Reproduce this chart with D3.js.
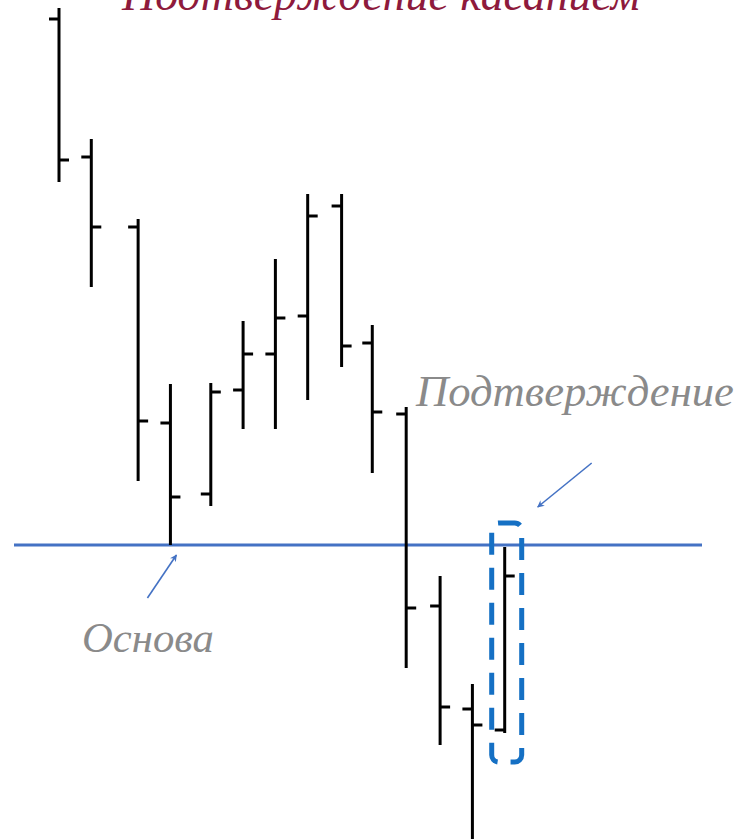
<!DOCTYPE html>
<html>
<head>
<meta charset="utf-8">
<script src="https://cdn.jsdelivr.net/npm/d3@7"></script>
<style>
  html, body { margin: 0; padding: 0; background: #fff; }
  svg { display: block; }
</style>
</head>
<body>
<div id="chart"></div>
<script>
// ---- data ----
const slots  = [0, 1, 2.45, 3.45, 4.7, 5.7, 6.7, 7.7, 8.75, 9.7, 10.75, 11.8, 12.8, 13.8];
const opens  = [82.0, 68.2, 61.2, 41.6, 34.5, 44.9, 48.5, 52.3, 63.3, 49.6, 42.5, 23.3, 13.0, 10.9];
const highs  = [83.1, 70.0, 62.0, 45.5, 45.6, 51.8, 58.0, 64.5, 64.5, 51.4, 43.2, 26.3, 15.5, 29.2];
const lows   = [65.7, 55.2, 35.8, 29.4, 33.3, 41.0, 41.0, 43.9, 47.2, 36.6, 17.1, 9.4, -1.0, 10.6];
const closes = [67.9, 61.2, 41.8, 34.2, 44.7, 48.5, 52.1, 62.3, 49.3, 42.7, 23.1, 13.2, 11.4, 26.3];
const supportLevel = 29.4;
const baseBar = 3;      // "Основа" bar index
const confirmBar = 13;  // "Подтверждение" bar index
const titleText = "Подтверждение касанием";
const labelConfirm = "Подтверждение";
const labelBase = "Основа";

const W = 751, H = 839;
const bars = slots.map((t, i) => ({ t, o: opens[i], h: highs[i], l: lows[i], c: closes[i] }));

const x = d3.scaleLinear().domain([0, 13.8]).range([59, 504.7]);
const y = d3.scaleLinear().domain([0, 83.9]).range([839, 0]);

const svg = d3.select("#chart").append("svg")
  .attr("width", W).attr("height", H);

const defs = svg.append("defs");
defs.append("marker")
  .attr("id", "arrow")
  .attr("viewBox", "0 0 10 10")
  .attr("refX", 9).attr("refY", 5)
  .attr("markerWidth", 7).attr("markerHeight", 7)
  .attr("markerUnits", "userSpaceOnUse")
  .attr("orient", "auto")
  .append("path").attr("d", "M0,0 L10,5 L0,10 L3,5 Z").attr("fill", "#4472c4");

const FONT = "'Liberation Serif', 'DejaVu Serif', serif";
// add text whose natural width fits a target width
function fitText(str, tx, ty, width, color) {
  const t = svg.append("text")
    .attr("x", tx).attr("y", ty)
    .attr("font-family", FONT)
    .attr("font-style", "italic")
    .attr("font-size", 50)
    .attr("fill", color)
    .text(str);
  const w = t.node().getComputedTextLength();
  t.attr("font-size", (50 * width / w).toFixed(2));
  return t;
}

// title (cut off at the top, as in the reference)
fitText(titleText, 122, 10, 518, "#8e1a3c");

// support line
svg.append("line")
  .attr("x1", 14).attr("x2", 702)
  .attr("y1", y(supportLevel)).attr("y2", y(supportLevel))
  .attr("stroke", "#4472c4").attr("stroke-width", 3);

// OHLC bars
const g = svg.append("g").attr("stroke", "#000").attr("stroke-width", 3).attr("stroke-linecap", "butt");
const tick = 10;
g.selectAll("line.hl").data(bars).join("line")
  .attr("class", "hl")
  .attr("x1", d => x(d.t)).attr("x2", d => x(d.t))
  .attr("y1", d => y(d.h)).attr("y2", d => y(d.l));
g.selectAll("line.op").data(bars).join("line")
  .attr("class", "op")
  .attr("x1", d => x(d.t) - tick).attr("x2", d => x(d.t))
  .attr("y1", d => y(d.o)).attr("y2", d => y(d.o));
g.selectAll("line.cl").data(bars).join("line")
  .attr("class", "cl")
  .attr("x1", d => x(d.t)).attr("x2", d => x(d.t) + tick)
  .attr("y1", d => y(d.c)).attr("y2", d => y(d.c));

// dashed highlight box around the confirmation bar
const cb = bars[confirmBar];
const bx0 = x(cb.t) - 13, bx1 = x(cb.t) + 17;
const by0 = y(cb.h) - 24, by1 = y(cb.l) + 29;
svg.append("rect")
  .attr("x", bx0).attr("y", by0)
  .attr("width", bx1 - bx0).attr("height", by1 - by0)
  .attr("rx", 7).attr("ry", 7)
  .attr("fill", "none")
  .attr("stroke", "#1570c4").attr("stroke-width", 5)
  .attr("stroke-dasharray", "22 13");

// labels
fitText(labelConfirm, 416, 406, 318, "#8a8a8a");
fitText(labelBase, 82, 652, 132, "#8a8a8a");

// arrows
const bb = bars[baseBar];
svg.append("line")
  .attr("x1", x(bb.t) - 23).attr("y1", y(bb.l) + 53)
  .attr("x2", x(bb.t) + 6).attr("y2", y(bb.l) + 10)
  .attr("stroke", "#4472c4").attr("stroke-width", 1.6)
  .attr("marker-end", "url(#arrow)");
svg.append("line")
  .attr("x1", bx1 + 70).attr("y1", by0 - 60)
  .attr("x2", bx1 + 16).attr("y2", by0 - 16)
  .attr("stroke", "#4472c4").attr("stroke-width", 1.6)
  .attr("marker-end", "url(#arrow)");
</script>
</body>
</html>
